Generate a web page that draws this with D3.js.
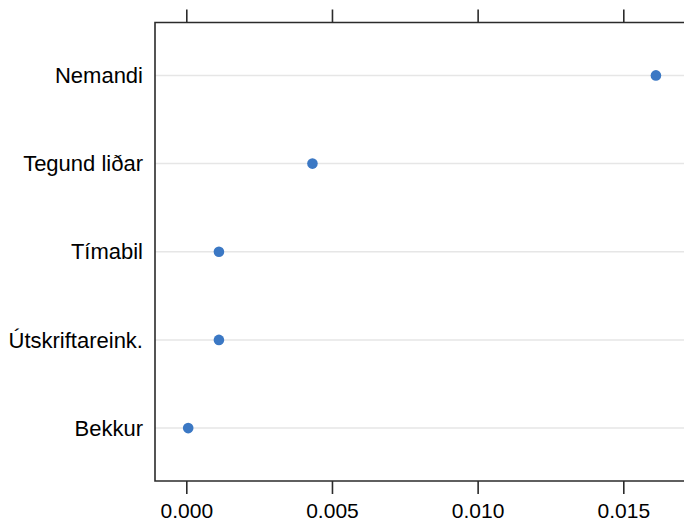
<!DOCTYPE html>
<html><head><meta charset="utf-8">
<script src="https://cdn.jsdelivr.net/npm/d3@7"></script>
<style>body{margin:0;background:#fff}svg{display:block}</style>
</head><body>
<script>
const categories = ["Bekkur", "Útskriftareink.", "Tímabil", "Tegund liðar", "Nemandi"];
const values = [0.000065, 0.00112, 0.00112, 0.00433, 0.01612];
const tickValues = [0, 0.005, 0.010, 0.015];
const tickLabels = ["0.000", "0.005", "0.010", "0.015"];

const W = 684, H = 525;
const svg = d3.select("body").append("svg").attr("width", W).attr("height", H);

const x = d3.scaleLinear().domain([0, 0.015]).range([186.3, 623.3]);
const panelLeft = 155, panelRight = x(0.0175);
const y = d3.scaleLinear().domain([0.4, categories.length + 0.6]).range([481, 22.5]);
const panelTop = y.range()[1], panelBottom = y.range()[0];

const font = "'Liberation Sans', Arial, Helvetica, sans-serif";

// grid lines
svg.append("g").selectAll("line").data(categories).join("line")
  .attr("x1", panelLeft).attr("x2", panelRight)
  .attr("y1", (d, i) => y(i + 1)).attr("y2", (d, i) => y(i + 1))
  .attr("stroke", "#e6e6e6").attr("stroke-width", 1.5);

// points
svg.append("g").selectAll("circle").data(values).join("circle")
  .attr("cx", d => x(d)).attr("cy", (d, i) => y(i + 1))
  .attr("r", 5.3).attr("fill", "#3b78c4");

// panel border
const bc = "#2b2b2b", bw = 1.6;
svg.append("path")
  .attr("d", `M${panelRight},${panelTop}H${panelLeft}V${panelBottom}H${panelRight}`)
  .attr("fill", "none").attr("stroke", bc).attr("stroke-width", bw);

// top axis
const axTop = d3.axisTop(x).tickValues(tickValues).tickSize(13).tickFormat("");
svg.append("g").attr("transform", `translate(0,${panelTop})`).call(axTop)
  .call(g => g.select(".domain").remove())
  .call(g => g.selectAll("line").attr("stroke", bc).attr("stroke-width", bw));

// bottom axis
const axBot = d3.axisBottom(x).tickValues(tickValues).tickSize(13).tickPadding(9)
  .tickFormat((d, i) => tickLabels[i]);
svg.append("g").attr("transform", `translate(0,${panelBottom})`).call(axBot)
  .call(g => g.select(".domain").remove())
  .call(g => g.selectAll("line").attr("stroke", bc).attr("stroke-width", bw))
  .call(g => g.selectAll("text").attr("font-family", font).attr("font-size", 21).attr("fill", "#000"));

// category labels
svg.append("g").selectAll("text").data(categories).join("text")
  .attr("x", 143).attr("y", (d, i) => y(i + 1))
  .attr("dy", "0.35em").attr("text-anchor", "end")
  .attr("font-family", font).attr("font-size", 22).attr("fill", "#000")
  .text(d => d);
</script>
</body></html>
